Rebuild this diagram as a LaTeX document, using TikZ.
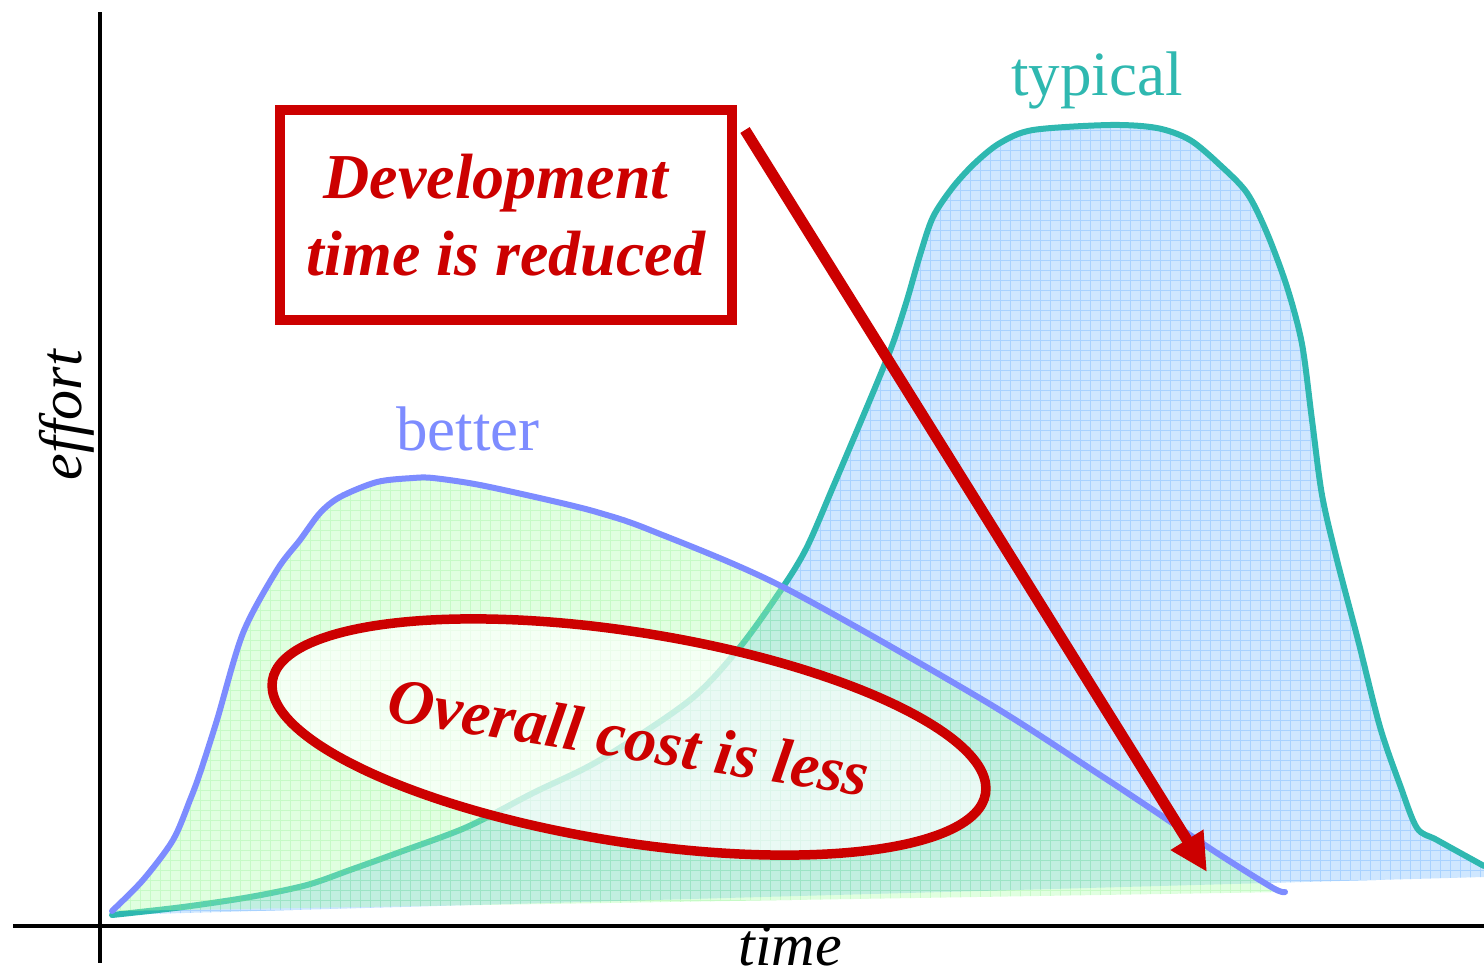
\documentclass[tikz,border=0pt]{standalone}
\usepackage{fontspec}
\setmainfont{Liberation Serif}
\usepackage{tikz}
\usetikzlibrary{arrows.meta}
\usetikzlibrary{shapes.geometric}
\definecolor{tealline}{RGB}{47,184,176}
\definecolor{blueline}{RGB}{125,140,255}
\definecolor{typicalfill}{RGB}{207,231,255}
\definecolor{typicalgrid}{RGB}{168,210,255}
\definecolor{betterfill}{RGB}{171,255,171}
\definecolor{bettergrid}{RGB}{120,235,120}
\definecolor{darkred}{RGB}{204,0,0}
\tikzset{axis/.style={line width=3.5pt, black},
	curve/.style={line width=6pt, line join=round, line cap=round},
	curvelabel/.style={anchor=base, inner sep=0pt, font=\fontsize{63}{70}\selectfont},
	axislabel/.style={anchor=base, inner sep=0pt, font=\fontsize{60}{66}\selectfont\itshape},
	notebox/.style={rectangle, draw=darkred, fill=white, line width=10pt, minimum width=452pt, minimum height=210pt,
		text=darkred, align=center, font=\fontsize{64}{77}\selectfont\bfseries\itshape},
	costring/.style={ellipse, draw=darkred, fill=white, fill opacity=0.65, text opacity=1, line width=9.5pt,
		minimum width=722pt, minimum height=210pt, inner sep=0pt,
		text=darkred, font=\fontsize{64}{70}\selectfont\bfseries\itshape},
	pointer/.style={line width=11pt, darkred, -{Triangle[length=38pt, width=36pt]}}
}
\newcommand{\typicalcurve}{plot[smooth, tension=0.5] coordinates {(112,915) (183,907) (250,897) (307,885) (350,870)
	(400,852) (467,827) (533,793) (600,760) (690,700) (740,647) (783,587) (807,547) (833,487) (853,440) (877,383)
	(893,343) (907,300) (920,255) (933,217) (953,187) (975,163) (1000,143) (1033,130) (1110,125) (1157,128)
	(1190,140) (1220,165) (1247,193) (1267,233) (1287,287) (1302,344) (1312,420) (1322,495) (1337,560) (1358,640)
	(1380,727) (1400,785) (1417,828) (1437,840) (1484,866)}}
\newcommand{\bettercurve}{plot[smooth, tension=0.5] coordinates {(112,911) (143,880) (173,840) (190,800) (200,773)
	(217,720) (243,633) (277,570) (300,540) (320,513) (340,497) (377,482) (413,478) (433,478) (480,485) (557,502)
	(600,513) (650,530) (783,587) (983,700) (1100,775) (1150,808) (1217,853) (1273,888) (1285,892)}}

\begin{document}
\begin{tikzpicture}[x=1pt, y=-1pt]
	\useasboundingbox (0,0) rectangle (1484,978);
	\begin{scope}
		\clip \typicalcurve -- (1484,877) -- cycle;
		\fill[typicalfill] (100,100) rectangle (1484,930);
		\draw[typicalgrid, line width=0.8pt, step=10pt] (100,100) grid (1484,930);
	\end{scope}
	\draw[curve, tealline] \typicalcurve;
	\begin{scope}
		\clip \bettercurve -- cycle;
		\fill[betterfill, fill opacity=0.37] (100,400) rectangle (1300,930);
		\draw[bettergrid, line width=0.8pt, opacity=0.25, step=10pt] (100,400) grid (1300,930);
	\end{scope}
	\draw[curve, blueline] \bettercurve;
	\coordinate (ytop) at (100,12);
	\coordinate (ybottom) at (100,963);
	\coordinate (xleft) at (13,926);
	\coordinate (xright) at (1484,926);
	\draw[axis] (ytop) -- (ybottom);
	\draw[axis] (xleft) -- (xright);
	\node[curvelabel, text=tealline] (typical) at (1097,95) {typical};
	\node[curvelabel, text=blueline] (better) at (468,450) {better};
	\node[axislabel, rotate=90] (effort) at (81,415) {effort};
	\node[axislabel] (time) at (790,965) {time};
	\node[costring, rotate=-9] (cost) at (629,737) {Overall cost is less};
	\node[notebox] (devtime) at (506,215) {Development\hspace*{20pt}\\time is reduced};
	\coordinate (pointstart) at (745,130);
	\coordinate (pointend) at (1207,872);
	\draw[pointer] (pointstart) -- (pointend);
\end{tikzpicture}
\end{document}
